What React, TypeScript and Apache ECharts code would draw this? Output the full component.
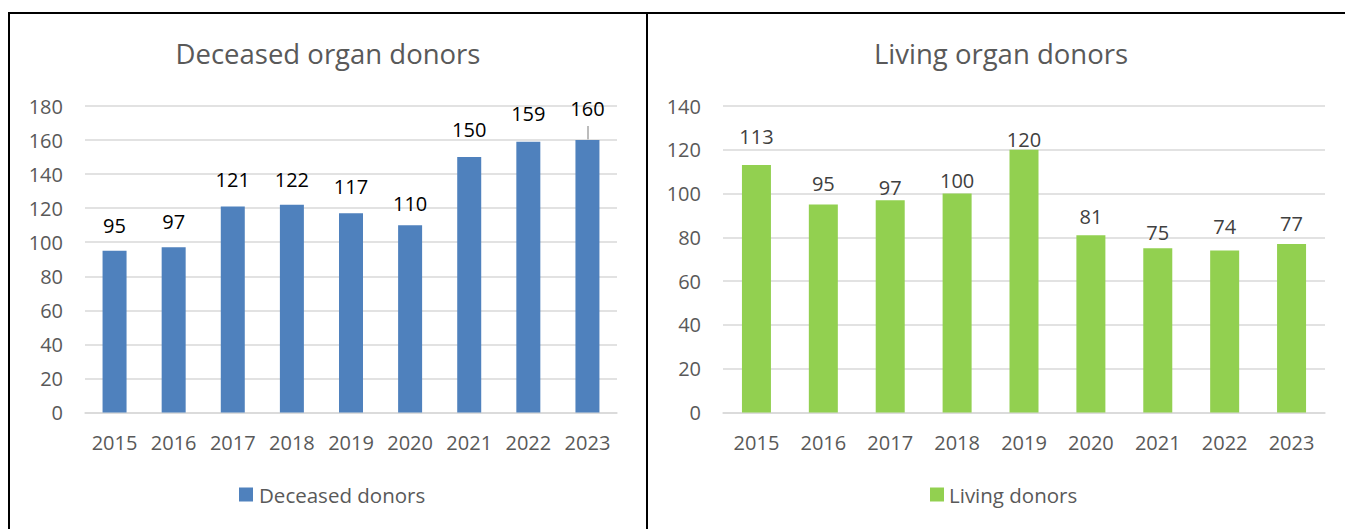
import React, { useEffect, useRef } from "react";
import * as echarts from "echarts";

const years = ["2015", "2016", "2017", "2018", "2019", "2020", "2021", "2022", "2023"];
const deceasedDonors = [95, 97, 121, 122, 117, 110, 150, 159, 160];
const livingDonors = [113, 95, 97, 100, 120, 81, 75, 74, 77];
const leftTitle = "Deceased organ donors";
const rightTitle = "Living organ donors";
const leftSeriesName = "Deceased donors";
const rightSeriesName = "Living donors";

// label gaps above bars (style only), as placed in the source chart
const leftLabelGap = [15.5, 15.5, 16.5, 15.5, 16.5, 12, 18, 18, 22];
const rightLabelGap = [19, 11, 2.5, 3.5, 0.5, 8.5, 6, 13.5, 10.5];

const FONT = "'Open Sans', 'Noto Sans', sans-serif";
const AXIS_COLOR = "#595959";
const GRID_COLOR = "#D9D9D9";

export default function App() {
  const ref = useRef<HTMLDivElement>(null);
  useEffect(() => {
    if (!ref.current) return;
    const chart = echarts.init(ref.current, null, { renderer: "svg" });
    const xAxisBase = {
      type: "category" as const,
      data: years,
      axisTick: { show: false },
      axisLine: { lineStyle: { color: GRID_COLOR, width: 1.5 } },
      axisLabel: { color: AXIS_COLOR, fontFamily: FONT, fontSize: 20, margin: 20, interval: 0, hideOverlap: false },
    };
    const yAxisBase = {
      type: "value" as const,
      interval: 20,
      min: 0,
      axisLine: { show: false },
      axisTick: { show: false },
      splitLine: { lineStyle: { color: GRID_COLOR, width: 1.5 } },
      axisLabel: { color: AXIS_COLOR, fontFamily: FONT, fontSize: 20, margin: 22 },
    };
    chart.setOption({
      animation: false,
      title: [
        {
          text: leftTitle,
          left: 323,
          top: 34,
          textAlign: "center",
          textStyle: { color: AXIS_COLOR, fontFamily: FONT, fontSize: 27.5, fontWeight: "normal" },
        },
        {
          text: rightTitle,
          left: 996,
          top: 34,
          textAlign: "center",
          textStyle: { color: AXIS_COLOR, fontFamily: FONT, fontSize: 27.5, fontWeight: "normal" },
        },
      ],
      legend: [
        {
          data: [leftSeriesName],
          left: 234,
          top: 479,
          icon: "rect",
          itemWidth: 14,
          itemHeight: 14,
          textStyle: { color: AXIS_COLOR, fontFamily: FONT, fontSize: 20.5, padding: [0, 0, 0, 1] },
        },
        {
          data: [rightSeriesName],
          left: 925,
          top: 479,
          icon: "rect",
          itemWidth: 14,
          itemHeight: 14,
          textStyle: { color: AXIS_COLOR, fontFamily: FONT, fontSize: 20.5, padding: [0, 0, 0, 0] },
        },
      ],
      grid: [
        { left: 85, right: 728, top: 106, bottom: 116.5 },
        { left: 723, right: 20, top: 106, bottom: 116.5 },
      ],
      xAxis: [
        { ...xAxisBase, gridIndex: 0 },
        { ...xAxisBase, gridIndex: 1 },
      ],
      yAxis: [
        { ...yAxisBase, gridIndex: 0, max: 180 },
        { ...yAxisBase, gridIndex: 1, max: 140 },
      ],
      series: [
        {
          name: leftSeriesName,
          type: "bar",
          xAxisIndex: 0,
          yAxisIndex: 0,
          barWidth: 24,
          itemStyle: { color: "#4F81BD" },
          data: deceasedDonors.map((v, i) => ({ value: v, label: { distance: leftLabelGap[i] } })),
          label: {
            show: true,
            position: "top",
            color: "#000000",
            fontFamily: FONT,
            fontSize: 20,
          },
        },
        {
          name: rightSeriesName,
          type: "bar",
          xAxisIndex: 1,
          yAxisIndex: 1,
          barWidth: 29,
          itemStyle: { color: "#92D050" },
          data: livingDonors.map((v, i) => ({ value: v, label: { distance: rightLabelGap[i] } })),
          label: {
            show: true,
            position: "top",
            color: "#404040",
            fontFamily: FONT,
            fontSize: 20,
          },
        },
      ],
      graphic: [
        { type: "line", shape: { x1: 8, y1: 13, x2: 1345, y2: 13 }, style: { stroke: "#000", lineWidth: 2 } },
        { type: "line", shape: { x1: 9, y1: 13, x2: 9, y2: 529 }, style: { stroke: "#000", lineWidth: 2 } },
        { type: "line", shape: { x1: 647, y1: 13, x2: 647, y2: 529 }, style: { stroke: "#000", lineWidth: 2 } },
        { type: "line", shape: { x1: 588, y1: 126, x2: 588, y2: 140 }, style: { stroke: "#A6A6A6", lineWidth: 1.5 } },
      ],
    });
    return () => chart.dispose();
  }, []);
  return (
    <div
      ref={ref}
      style={{ position: "fixed", left: 0, top: 0, width: 1345, height: 529, background: "#fff" }}
    />
  );
}
